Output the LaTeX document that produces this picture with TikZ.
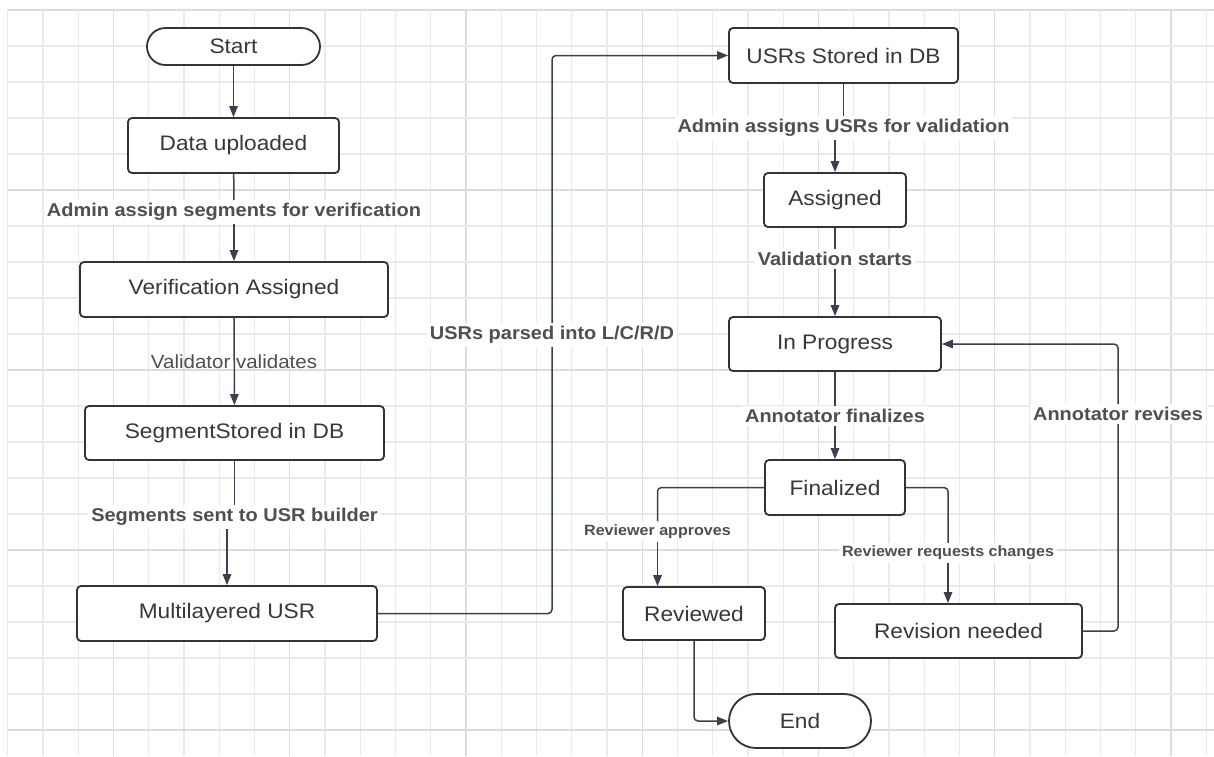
\documentclass[tikz,border=0pt]{standalone}
\usepackage{fontspec}
\setmainfont[FakeStretch=1.08]{Liberation Sans}
\usetikzlibrary{arrows.meta}
\definecolor{gridc}{HTML}{EAEAEA}
\definecolor{gridd}{HTML}{DCDCDC}
\definecolor{linec}{HTML}{3A414E}
\definecolor{boxc}{HTML}{333333}
\definecolor{txtc}{HTML}{383838}
\definecolor{lblc}{HTML}{4F4F4F}
\begin{document}
\begin{tikzpicture}[x=1pt,y=-1pt,
  box/.style={draw=boxc, line width=1.8pt, fill=white, rounded corners=4pt, text=txtc,
    font=\fontsize{21}{25}\selectfont, inner sep=0pt},
  lbl/.style={text=lblc, font=\bfseries\fontsize{18.5}{22}\selectfont, fill=white, inner sep=3pt},
  slbl/.style={text=lblc, font=\bfseries\fontsize{14.9}{18}\selectfont, fill=white, inner sep=3pt},
  rlbl/.style={text=lblc, font=\fontsize{19}{22}\selectfont, inner sep=0pt},
  conn/.style={draw=linec, line width=1.5pt, rounded corners=4pt},
  arr/.style={conn, -{Triangle[length=11pt,width=8.5pt]}},
  gl/.style={draw=gridc, line width=1.2pt},
  gd/.style={draw=gridd, line width=1.4pt},
]
\useasboundingbox (0,0) rectangle (1214,756);
\fill[white] (0,0) rectangle (1214,756);
% grid
\foreach \k in {0,...,34}{
  \pgfmathsetmacro\xx{7.7+\k*35.25}
  \pgfmathtruncatemacro\md{mod(\k,5)}
  \ifnum\md=3 \draw[gd] (\xx,10) -- (\xx,756); \else \draw[gl] (\xx,10) -- (\xx,756); \fi
}
\foreach \k in {0,...,20}{
  \pgfmathsetmacro\yy{10+\k*36}
  \pgfmathtruncatemacro\md{mod(\k,5)}
  \ifnum\md=0 \draw[gd] (7.7,\yy) -- (1214,\yy); \else \draw[gl] (7.7,\yy) -- (1214,\yy); \fi
}
% boxes
\node[box, rounded corners=18.5pt, minimum width=173pt, minimum height=37pt] (start) at (233.5,46.5) {Start};
\node[box, minimum width=211pt, minimum height=55pt] (data) at (233.5,145.5) {Data uploaded};
\node[box, minimum width=308pt, minimum height=55pt] (ver) at (234,289.5) {Verification Assigned};
\node[box, minimum width=299pt, minimum height=54pt] (seg) at (234.5,433) {SegmentStored in DB};
\node[box, minimum width=300pt, minimum height=55pt] (mul) at (227,613.5) {Multilayered USR};
\node[box, minimum width=229pt, minimum height=55pt] (usr) at (843.5,55.5) {USRs Stored in DB};
\node[box, minimum width=142pt, minimum height=54pt] (asg) at (835,200) {Assigned};
\node[box, minimum width=212pt, minimum height=54pt] (inp) at (835,344) {In Progress};
\node[box, minimum width=140pt, minimum height=55pt] (fin) at (835,487.5) {Finalized};
\node[box, minimum width=142pt, minimum height=53pt] (rev) at (694,613.5) {Reviewed};
\node[box, minimum width=247pt, minimum height=54pt] (rn) at (958.5,631) {Revision needed};
\node[box, rounded corners=27pt, minimum width=142pt, minimum height=54pt] (end) at (800,721) {End};
% labels
\node[lbl] (l1) at (234,212) {Admin assign segments for verification};
\node[rlbl] (l2) at (234,362) {Validator validates};
\node[lbl] (l3) at (234.5,517) {Segments sent to USR builder};
\node[lbl] (l4) at (552,335) {USRs parsed into L/C/R/D};
\node[lbl] (l5) at (843.5,128) {Admin assigns USRs for validation};
\node[lbl] (l6) at (835,258.5) {Validation starts};
\node[lbl] (l7) at (835,416) {Annotator finalizes};
\node[slbl] (l8) at (657.5,531.5) {Reviewer approves};
\node[slbl] (l9) at (948,553) {Reviewer requests changes};
\node[lbl] (l10) at (1118,414) {Annotator revises};
% connectors
\draw[arr] (start) -- (data);
\draw[conn] (data) -- (l1);
\draw[arr] (l1) -- (ver);
\draw[arr] (ver) -- (seg);
\draw[conn] (seg.south) -- (seg.south |- l3.north);
\draw[arr] (mul.north |- l3.south) -- (mul.north);
\draw[conn] (mul.east) -| (l4.south);
\draw[arr] (l4.north) |- (usr.west);
\draw[conn] (usr.south) -- (usr.south |- l5.north);
\draw[arr] (asg.north |- l5.south) -- (asg.north);
\draw[conn] (asg) -- (l6);
\draw[arr] (l6) -- (inp);
\draw[conn] (inp) -- (l7);
\draw[arr] (l7) -- (fin);
\draw[conn] (fin.west) -| (l8.north);
\draw[arr] (l8.south) -- (l8.south |- rev.north);
\draw[conn] (fin.east) -| (l9.north);
\draw[arr] (l9.south) -- (l9.south |- rn.north);
\draw[arr] (rev.south) |- (end.west);
\draw[conn] (rn.east) -| (l10.south);
\draw[arr] (l10.north) |- (inp.east);
\end{tikzpicture}
\end{document}
